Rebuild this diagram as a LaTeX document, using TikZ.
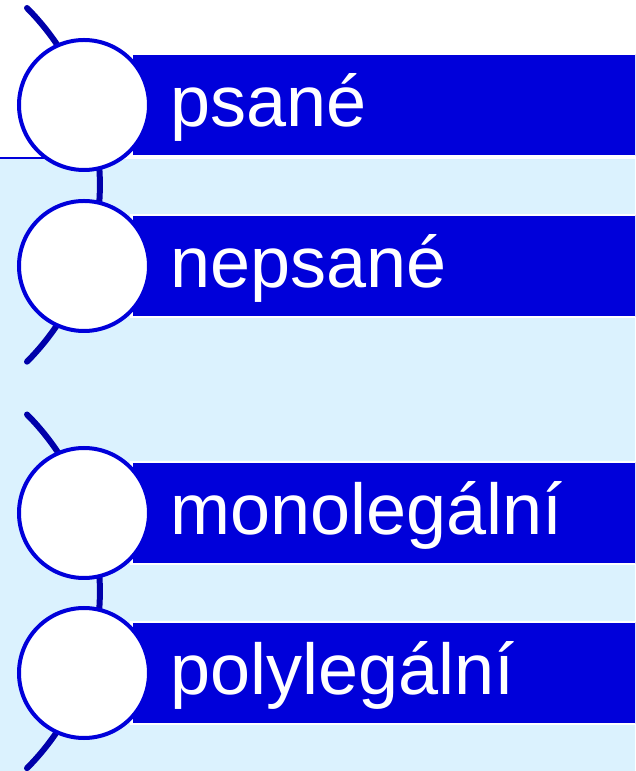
\documentclass[tikz,border=0pt]{standalone}
\usepackage{fontspec}
\setmainfont{Liberation Sans}
\definecolor{barblue}{RGB}{0,0,218}
\definecolor{arcblue}{RGB}{0,0,170}
\definecolor{paleblue}{RGB}{219,242,254}

\begin{document}
\begin{tikzpicture}[x=1pt,y=1pt,
        bar/.style={draw=white, line width=2.5pt, fill=barblue, text=white, anchor=west,
            minimum height=102pt, inner ysep=0pt, inner xsep=39pt, text width=480pt,
            text height=72.5pt, text depth=29.5pt, font=\fontsize{72}{80}\selectfont},
        ring/.style={circle, draw=barblue, line width=4pt, fill=white, minimum size=130pt, inner sep=0pt},
        spine/.style={draw=arcblue, line width=6pt, line cap=round}]
        \def\r{251}

        \clip (0,0) rectangle (635,771);
        \fill[paleblue] (0,0) rectangle (635,612);
        \draw[barblue, line width=1.2pt] (0,613) -- (84,613);

        \foreach \i/\yc in {1/586, 2/179.5}{
            \coordinate (top\i) at (27,\yc+177);
            \draw[spine] (top\i) arc[start angle=44.8, end angle=-44.8, radius=\r];
        }

        \foreach \i/\y/\txt in {1/666/psané, 2/505/nepsané, 3/258/monolegální, 4/98/polylegální}{
            \node[bar] (b\i) at (130,\y) {\txt};
            \node[ring] (c\i) at (84,\y) {};
        }

    \end{tikzpicture}
\end{document}
